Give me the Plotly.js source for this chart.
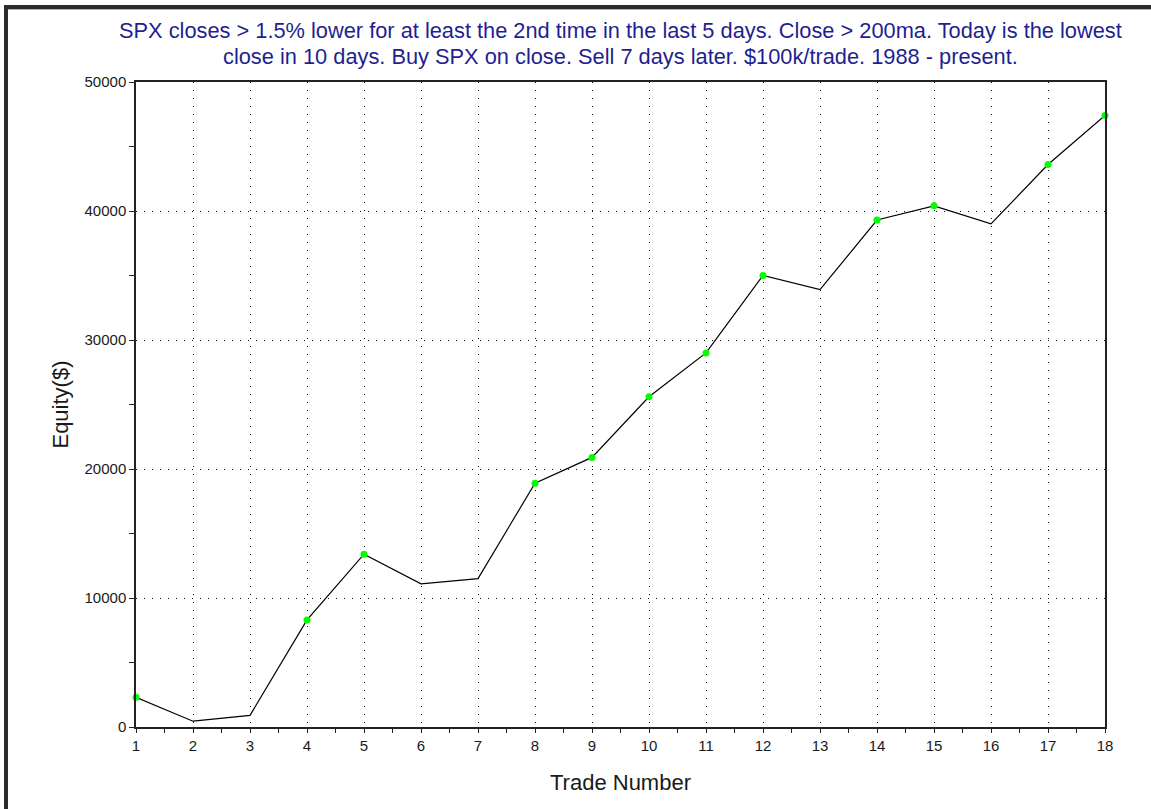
<!DOCTYPE html>
<html>
<head>
<meta charset="utf-8">
<script src="https://cdn.plot.ly/plotly-3.0.1.min.js"></script>
<style>
  html, body { margin: 0; padding: 0; background: #fff; }
  #chart { width: 1151px; height: 809px; position: absolute; left: 0; top: 0; }
  #frame { position: absolute; left: 4px; top: 5px; width: 1147px; height: 804px;
           border-top: 4px solid #2b2b2b; border-left: 4px solid #2b2b2b;
           box-sizing: border-box; pointer-events: none; }
  #frame-inner { position: absolute; left: 0; top: 0; right: 0; height: 1px; background: #b0b0b0; }
</style>
</head>
<body>
<div id="chart"></div>
<div id="frame"><div id="frame-inner"></div></div>
<script>
// Data
const tradeNumbers = [1, 2, 3, 4, 5, 6, 7, 8, 9, 10, 11, 12, 13, 14, 15, 16, 17, 18];
const equity = [2300, 450, 900, 8300, 13400, 11100, 11500, 18900, 20900, 25600,
                29000, 35000, 33900, 39300, 40400, 39000, 43600, 47400];
// Trades drawn with a green dot in the reference
const markedTrades = [1, 4, 5, 8, 9, 10, 11, 12, 14, 15, 17, 18];
const yTickValues = [0, 10000, 20000, 30000, 40000, 50000];
const yTickLabels = ["0", "10000", "20000", "30000", "40000", "50000"];
const titleLines = [
  "SPX closes > 1.5% lower for at least the 2nd time in the last 5 days. Close > 200ma. Today is the lowest",
  "close in 10 days. Buy SPX on close. Sell 7 days later. $100k/trade. 1988 - present."
];

const markX = [], markY = [];
for (let i = 0; i < tradeNumbers.length; i++) {
  if (markedTrades.indexOf(tradeNumbers[i]) !== -1) { markX.push(tradeNumbers[i]); markY.push(equity[i]); }
}

const fontFamily = "Liberation Sans, Arial, sans-serif";

const traces = [
  {
    x: tradeNumbers, y: equity, type: "scatter", mode: "lines",
    line: { color: "#000000", width: 1.2 },
    hoverinfo: "x+y", showlegend: false
  },
  {
    x: markX, y: markY, type: "scatter", mode: "markers",
    marker: { color: "#00ff00", size: 7, line: { width: 0 } },
    cliponaxis: false, hoverinfo: "x+y", showlegend: false
  }
];

const titleYs = [1.0791, 1.0403];
const annotations = titleLines.map((t, i) => ({
  text: t, xref: "paper", yref: "paper", x: 0.5, y: titleYs[i],
  xanchor: "center", yanchor: "middle", showarrow: false,
  font: { family: fontFamily, size: 21.8, color: "#1f1f8f" }
}));

const axisCommon = {
  showline: true, linecolor: "#222", linewidth: 1.5, mirror: true,
  ticks: "outside", tickcolor: "#222", tickwidth: 1.3,
  tickfont: { family: fontFamily, size: 15, color: "#1a1a1a" },
  showgrid: true, gridcolor: "#111", gridwidth: 1, griddash: "1.3px,6.7px",
  zeroline: false, fixedrange: true
};

const layout = {
  width: 1151, height: 809,
  margin: { l: 136, r: 46, t: 82, b: 82 },
  paper_bgcolor: "#ffffff", plot_bgcolor: "#ffffff",
  font: { family: fontFamily, color: "#1a1a1a" },
  annotations: annotations,
  xaxis: Object.assign({}, axisCommon, {
    range: [1, 18], tickmode: "array", tickvals: tradeNumbers,
    ticktext: tradeNumbers.map(String), ticklen: 4,
    minor: { dtick: 0.5, tick0: 1, ticks: "outside", ticklen: 4, tickcolor: "#222", tickwidth: 1.3, showgrid: false },
    title: { text: "Trade Number", font: { family: fontFamily, size: 22, color: "#1a1a1a" }, standoff: 22 }
  }),
  yaxis: Object.assign({}, axisCommon, {
    range: [0, 50000], tickmode: "array", tickvals: yTickValues, ticktext: yTickLabels, ticklen: 5,
    minor: { dtick: 5000, tick0: 0, ticks: "outside", ticklen: 5, tickcolor: "#222", tickwidth: 1.3, showgrid: false },
    title: { text: "Equity($)", font: { family: fontFamily, size: 22, color: "#1a1a1a" }, standoff: 10 }
  })
};

Plotly.newPlot("chart", traces, layout, { displayModeBar: false });
</script>
</body>
</html>
